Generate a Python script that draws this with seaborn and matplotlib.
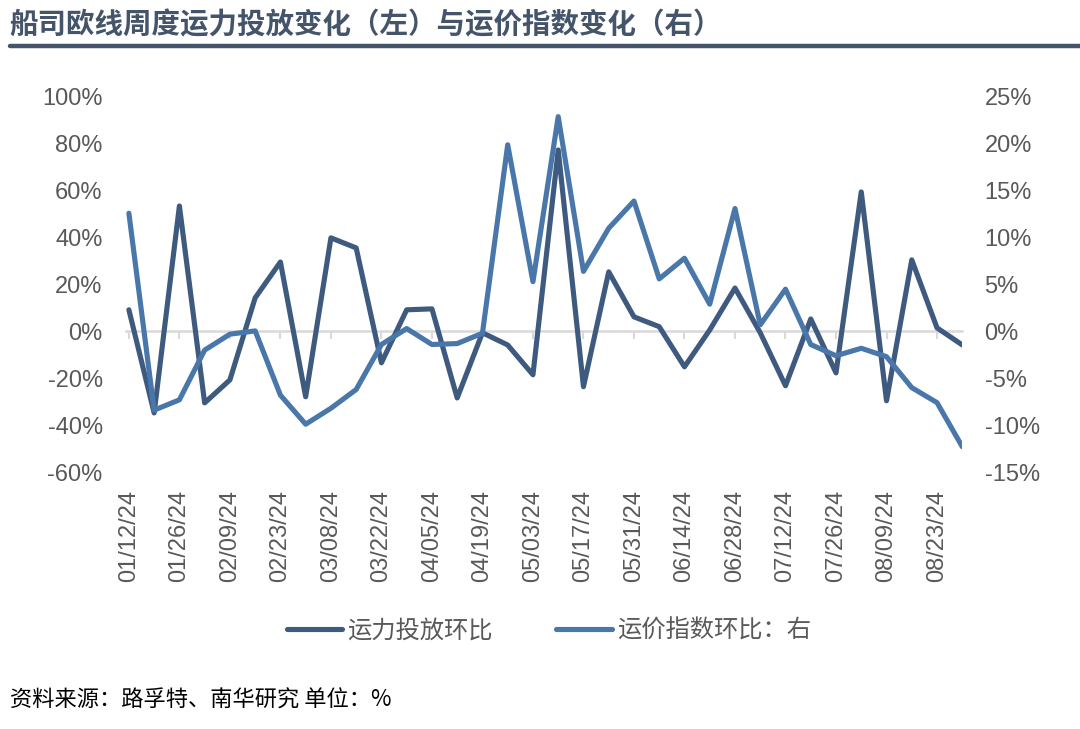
import matplotlib
matplotlib.use("Agg")
import matplotlib.pyplot as plt
import pandas as pd
import seaborn as sns
from matplotlib.ticker import PercentFormatter, MultipleLocator

# ---- data ----
dates = ["01/12/24", "01/19/24", "01/26/24", "02/02/24", "02/09/24", "02/16/24",
         "02/23/24", "03/01/24", "03/08/24", "03/15/24", "03/22/24", "03/29/24",
         "04/05/24", "04/12/24", "04/19/24", "04/26/24", "05/03/24", "05/10/24",
         "05/17/24", "05/24/24", "05/31/24", "06/07/24", "06/14/24", "06/21/24",
         "06/28/24", "07/05/24", "07/12/24", "07/19/24", "07/26/24", "08/02/24",
         "08/09/24", "08/16/24", "08/23/24", "08/30/24"]

capacity = [9.2, -34.8, 53.5, -30.5, -20.7, 14.3, 29.6, -27.9, 39.9, 35.6,
            -13.4, 9.2, 9.6, -28.4, -0.6, -5.8, -18.5, 77.4, -23.6, 25.4,
            6.2, 2.0, -15.1, 0.6, 18.5, -0.6, -23.2, 5.3, -17.7, 59.5,
            -29.6, 30.5, 1.5, -5.8]

freight = [12.6, -8.4, -7.3, -2.0, -0.3, 0.05, -6.8, -9.9, -8.2, -6.2,
           -1.4, 0.3, -1.4, -1.3, -0.2, 19.9, 5.3, 22.9, 6.4, 11.0,
           13.9, 5.6, 7.8, 2.9, 13.1, 0.7, 4.5, -1.4, -2.6, -1.8,
           -2.7, -6.0, -7.6, -12.3]

name_cap = "运力投放环比"
name_fr = "运价指数环比：右"
title = "船司欧线周度运力投放变化（左）与运价指数变化（右）"
footer = "资料来源：路孚特、南华研究 单位：%"

df = pd.DataFrame({"pos": list(range(len(dates))), "date": dates,
                   "cap": capacity, "fr": freight})

# ---- style ----
sns.set_theme(style="white")
plt.rcParams["font.family"] = ["Liberation Sans", "Noto Sans CJK SC", "DejaVu Sans"]
plt.rcParams["axes.unicode_minus"] = False
cjk = ["Noto Sans CJK SC", "DejaVu Sans"]

c_dark = "#3F5A7F"
c_light = "#4A77AA"
c_text = "#595959"
c_title = "#44546A"

fig = plt.figure(figsize=(10.8, 7.29), dpi=100)
ax = fig.add_axes([0.117, 0.3525, 0.774, 0.5145])
ax2 = ax.twinx()

sns.lineplot(data=df, x="pos", y="cap", ax=ax, color=c_dark, linewidth=3.7,
             label=name_cap, legend=False, zorder=3)
sns.lineplot(data=df, x="pos", y="fr", ax=ax2, color=c_light, linewidth=3.7,
             label=name_fr, legend=False, zorder=3)
for a in (ax, ax2):
    for ln in a.lines:
        ln.set_solid_joinstyle("round")
        ln.set_solid_capstyle("round")

ax.set_xlim(-0.1, len(dates) - 1)
ax.set_ylim(-60, 100)
ax2.set_ylim(-15, 25)
ax.yaxis.set_major_locator(MultipleLocator(20))
ax2.yaxis.set_major_locator(MultipleLocator(5))
ax.yaxis.set_major_formatter(PercentFormatter(decimals=0))
ax2.yaxis.set_major_formatter(PercentFormatter(decimals=0))

ax.set_xticks(df["pos"][::2])
ax.set_xticklabels(df["date"][::2], rotation=90)

for a in (ax, ax2):
    for s in a.spines.values():
        s.set_visible(False)
    a.set_xlabel("")
    a.set_ylabel("")
    a.grid(False)

ax.tick_params(axis="x", length=0, pad=13, labelsize=17, labelcolor=c_text)
ax.tick_params(axis="y", length=0, pad=17, labelsize=17, labelcolor=c_text)
ax2.tick_params(axis="y", length=0, pad=16, labelsize=17, labelcolor=c_text)

# zero line with downward tick marks
zero_frac = (0 - (-60)) / (100 - (-60))
sec = ax.secondary_xaxis(zero_frac)
sec.set_xticks(df["pos"][::2])
sec.set_xticklabels([])
sec.spines["bottom"].set_color("#D9D9D9")
sec.spines["bottom"].set_linewidth(1.8)
for k in ("top", "left", "right"):
    sec.spines[k].set_visible(False)
sec.tick_params(axis="x", direction="out", length=6, width=1.5, color="#D9D9D9")
sec.set_zorder(0)
ax.set_zorder(2)
ax2.set_zorder(3)
ax.patch.set_visible(False)
ax2.patch.set_visible(False)

# legend
h1, l1 = ax.get_legend_handles_labels()
h2, l2 = ax2.get_legend_handles_labels()
leg = fig.legend(h1 + h2, l1 + l2, loc="center", bbox_to_anchor=(0.508, 0.135),
                 ncol=2, frameon=False, handlelength=2.3, columnspacing=2.6,
                 handletextpad=0.2, prop={"family": cjk, "size": 17.5})
for t in leg.get_texts():
    t.set_color(c_text)

# title, rule, footer
fig.text(0.009, 0.966, title, family=cjk, fontsize=20.5, fontweight="bold",
         color=c_title, va="center", ha="left")
fig.add_artist(plt.Line2D([0.009, 1.0], [0.937, 0.937], transform=fig.transFigure,
                          color=c_title, linewidth=3.2))
fig.text(0.009, 0.04, footer, family=cjk, fontsize=16, color="black",
         va="center", ha="left")

fig.savefig("out.png", dpi=100)
